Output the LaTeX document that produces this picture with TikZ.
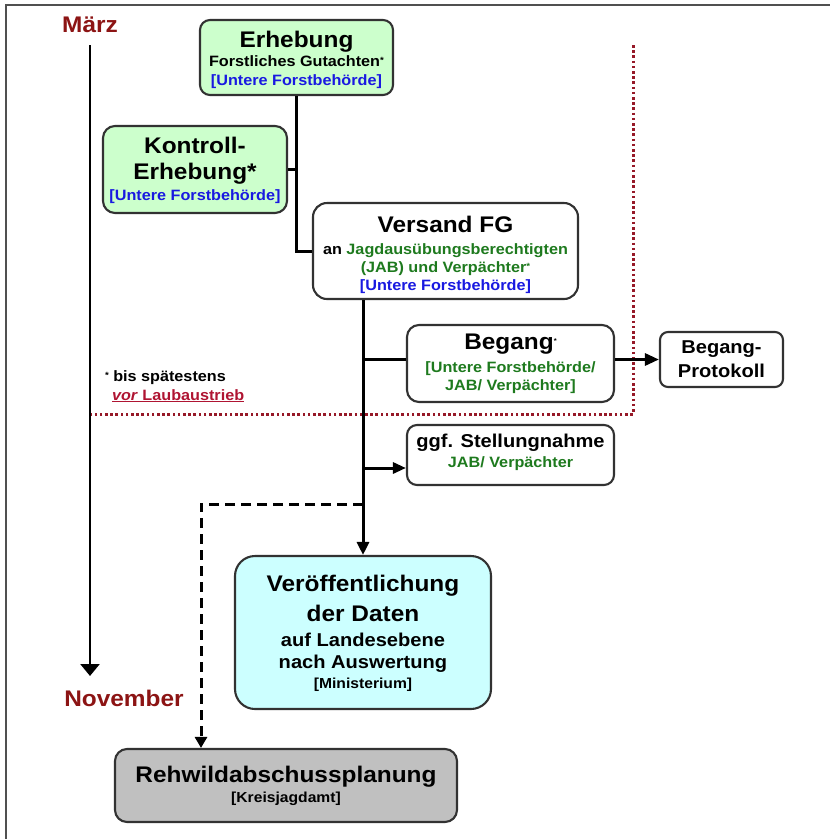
\documentclass[tikz,border=0pt]{standalone}
\usepackage{fontspec}
\setmainfont{Liberation Sans}[FakeStretch=1.08]
\usetikzlibrary{arrows.meta}
\definecolor{mred}{RGB}{140,20,20}
\definecolor{dotred}{RGB}{150,25,40}
\definecolor{crim}{RGB}{175,20,50}
\definecolor{tgreen}{RGB}{30,122,30}
\definecolor{tblue}{RGB}{25,25,225}
\definecolor{boxgray}{RGB}{50,50,50}
\definecolor{fgreen}{RGB}{204,255,204}
\definecolor{fcyan}{RGB}{204,255,255}
\definecolor{fgray}{RGB}{192,192,192}
\definecolor{framegray}{RGB}{80,80,80}
\newcommand\szT{\fontsize{22.6}{26}\selectfont\bfseries}
\newcommand\szM{\fontsize{18.6}{22}\selectfont\bfseries}
\newcommand\szS{\fontsize{15}{18}\selectfont\bfseries}
\newcommand\smallast{{\fontsize{9}{9}\selectfont\raisebox{3pt}{*}}}
\newcommand\tinyast{{\fontsize{7}{7}\selectfont\raisebox{6pt}{*}}}
\begin{document}
\begin{tikzpicture}[x=1pt,y=-1pt,
  box/.style={draw=boxgray, line width=2.1pt, inner sep=0pt},
  lbl/.style={anchor=base, inner sep=0pt, outer sep=0pt},
  conn/.style={line width=3pt, draw=black},
  arr/.style={conn, -{Triangle[width=12pt,length=13pt]}},
  dashconn/.style={conn, dash pattern=on 10pt off 6pt, -{Triangle[width=12pt,length=11pt]}},
  reddot/.style={draw=dotred, line width=3pt, dash pattern=on 2.6pt off 2.6pt}]
\useasboundingbox (0,0) rectangle (830,839);
% frame
\draw[framegray, line width=1.6pt] (6,839) -- (6,5) -- (830,5);

% boxes
\node[box, fill=fgreen, rounded corners=10pt, minimum width=193pt, minimum height=75pt] (erh) at (296.5,57.5) {};
\node[box, fill=fgreen, rounded corners=12pt, minimum width=184pt, minimum height=87pt] (kon) at (195,169.5) {};
\node[box, fill=white, rounded corners=14pt, minimum width=265pt, minimum height=96pt] (vsd) at (445.5,251) {};
\node[box, fill=white, rounded corners=12pt, minimum width=207pt, minimum height=77pt] (beg) at (510.5,363.5) {};
\node[box, fill=white, rounded corners=8pt, minimum width=123pt, minimum height=55pt] (prot) at (721.5,359.5) {};
\node[box, fill=white, rounded corners=10pt, minimum width=207pt, minimum height=60pt] (ggf) at (510.5,455) {};
\node[box, fill=fcyan, rounded corners=20pt, minimum width=256pt, minimum height=153pt] (vof) at (363,632.5) {};
\node[box, fill=fgray, rounded corners=12pt, minimum width=342pt, minimum height=73pt] (reh) at (286,785.5) {};

% coordinates
\coordinate (m0) at (90,45);
\coordinate (m1) at (90,676);
\coordinate (r0) at (633,45);
\coordinate (r1) at (633,414);
\coordinate (r2) at (90,414);
\coordinate (g1) at (363,468);
\coordinate (d0) at (363,504);
\coordinate (d1) at (201,504);

% red dotted frame
\draw[reddot] (r0) -- (r1) -- (r2);

% connectors
\draw[conn] (erh.south) |- (vsd.west);
\draw[conn] (kon.east) -- (kon.east -| erh.south);
\draw[arr] (vsd.south -| vof.north) -- (vof.north);
\draw[conn] (prot.west -| vof.north) -- (prot.west -| beg.west);
\draw[arr, -{Triangle[width=12pt,length=14pt]}] (prot.west -| beg.east) -- (prot.west);
\draw[arr, -{Triangle[width=11pt,length=13pt]}] (g1) -- (g1 -| ggf.west);
\draw[dashconn] (d0) -- (d1) -- (d1 |- reh.north);
\draw[line width=2.5pt, -{Triangle[width=19pt,length=12pt]}] (m0) -- (m1);

% time labels
\node[lbl, text=mred] (maerz) at (90,32) {\szT März};
\node[lbl, text=mred] (nov) at (124,706) {\szT November};

% Erhebung
\node[lbl] (erh1) at (296.5,47) {\szT Erhebung};
\node[lbl] (erh2) at (296.5,66) {\szS Forstliches Gutachten\smallast};
\node[lbl, text=tblue] (erh3) at (296.5,85) {\szS [Untere Forstbehörde]};

% Kontroll-Erhebung
\node[lbl] (kon1) at (195,153) {\szT Kontroll-};
\node[lbl] (kon2) at (195,179) {\szT Erhebung*};
\node[lbl, text=tblue] (kon3) at (195,200) {\szS [Untere Forstbehörde]};

% Versand FG
\node[lbl] (vsd1) at (445.5,232) {\szT Versand FG};
\node[lbl] (vsd2) at (445.5,254) {\szS an \textcolor{tgreen}{Jagdausübungsberechtigten}};
\node[lbl, text=tgreen] (vsd3) at (445.5,272) {\szS (JAB) und Verpächter\smallast};
\node[lbl, text=tblue] (vsd4) at (445.5,290) {\szS [Untere Forstbehörde]};

% Begang
\node[lbl] (beg1) at (510.5,349) {\szT Begang\tinyast};
\node[lbl, text=tgreen] (beg2) at (510.5,372) {\szS [Untere Forstbehörde/};
\node[lbl, text=tgreen] (beg3) at (510.5,390) {\szS JAB/ Verpächter]};

% Begang-Protokoll
\node[lbl] (prot1) at (721.5,353) {\szM Begang-};
\node[lbl] (prot2) at (721.5,377) {\szM Protokoll};

% ggf. Stellungnahme
\node[lbl] (ggf1) at (510.5,447) {\szM ggf. Stellungnahme};
\node[lbl, text=tgreen] (ggf2) at (510.5,467) {\szS JAB/ Verpächter};

% Veroeffentlichung
\node[lbl] (vof1) at (363,591) {\szT Veröffentlichung};
\node[lbl] (vof2) at (363,621) {\szT der Daten};
\node[lbl] (vof3) at (363,646) {\szM auf Landesebene};
\node[lbl] (vof4) at (363,668) {\szM nach Auswertung};
\node[lbl] (vof5) at (363,688) {\fontsize{14.5}{17}\selectfont\bfseries [Ministerium]};

% Rehwildabschussplanung
\node[lbl] (reh1) at (286,782) {\szT Rehwildabschussplanung};
\node[lbl] (reh2) at (286,802) {\fontsize{14.5}{17}\selectfont\bfseries [Kreisjagdamt]};

% footnote
\node[lbl, anchor=base west] (fn1) at (105,381) {\szS \smallast\ bis spätestens};
\node[lbl, anchor=base west, text=crim] (fn2) at (112,400) {\szS \underline{\textit{vor} Laubaustrieb}};
\end{tikzpicture}
\end{document}
